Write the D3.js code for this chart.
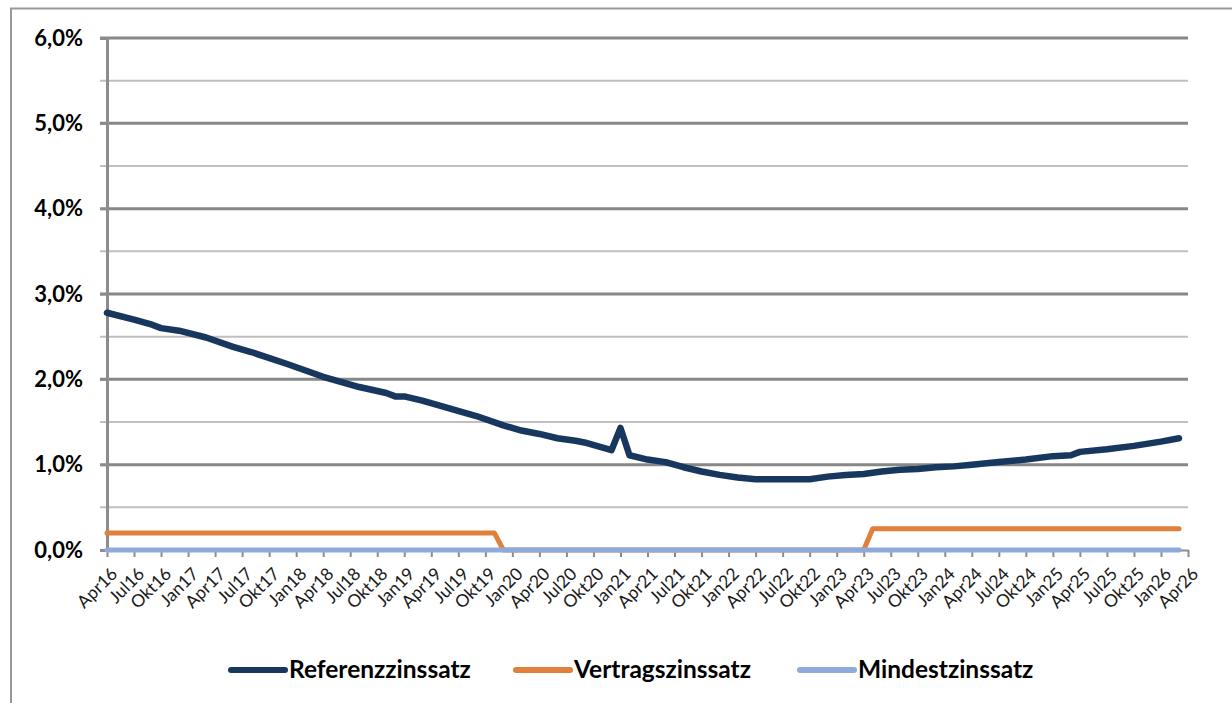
<!DOCTYPE html>
<html>
<head>
<meta charset="utf-8">
<script src="https://cdn.jsdelivr.net/npm/d3@7"></script>
<style>
  body { margin: 0; background: #fff; }
  svg { display: block; }
</style>
</head>
<body>
<svg id="chart" width="1232" height="703"></svg>
<script>
// x tick labels, one per quarter (every 3 months from Apr16)
const quarterLabels = [
  "Apr16","Jul16","Okt16","Jan17","Apr17","Jul17","Okt17","Jan18","Apr18","Jul18","Okt18",
  "Jan19","Apr19","Jul19","Okt19","Jan20","Apr20","Jul20","Okt20","Jan21","Apr21","Jul21",
  "Okt21","Jan22","Apr22","Jul22","Okt22","Jan23","Apr23","Jul23","Okt23","Jan24","Apr24",
  "Jul24","Okt24","Jan25","Apr25","Jul25","Okt25","Jan26","Apr26"
]

// month index counted from Apr16, values in %
const refMonths = [0,3,5,6,8,11,14,16,20,24,28,31,32,33,35,38,41,44,46,48,50,52,53,56,57,58,
  60,62,64,66,68,70,72,78,80,82,84,86,88,90,92,94,96,99,102,105,107,108,111,114,117,119]
const refRates = [2.78,2.70,2.64,2.60,2.57,2.49,2.38,2.32,2.18,2.03,1.91,1.84,1.80,1.80,1.75,
  1.66,1.57,1.46,1.40,1.36,1.31,1.28,1.26,1.17,1.43,1.11,1.06,1.03,0.97,0.92,0.88,0.85,0.83,
  0.83,0.86,0.88,0.89,0.92,0.94,0.95,0.97,0.98,1.00,1.03,1.06,1.10,1.11,1.15,1.18,1.22,1.27,1.31]

const contractMonths = [0,43,44,84,85,119]
const contractRates = [0.2,0.2,0,0,0.25,0.25]

const minMonths = [0,119]
const minRates = [0,0]

const yTicks = [0,1,2,3,4,5,6]
const yMinorTicks = [0.5,1.5,2.5,3.5,4.5,5.5]

const seriesNames = ["Referenzzinssatz","Vertragszinssatz","Mindestzinssatz"]
const seriesColors = ["#17375e","#e0803a","#8eaadb"]

const svg = d3.select('#chart')
const fontFam = 'Lato, "Open Sans", sans-serif'

// outer chart frame (only top and left edges are visible)
svg.append('rect')
  .attr('x', 11).attr('y', 8.5)
  .attr('width', 1400).attr('height', 900)
  .attr('fill', 'none')
  .attr('stroke', '#999')
  .attr('stroke-width', 2)

const x = d3.scaleLinear().domain([0, 120]).range([107, 1188])
const y = d3.scaleLinear().domain([0, 6]).range([550, 38])

// gridlines
svg.append('g').selectAll('line')
  .data(yMinorTicks)
  .enter().append('line')
    .attr('x1', 100).attr('x2', x(120))
    .attr('y1', d => y(d)).attr('y2', d => y(d))
    .attr('stroke', '#bfbfbf').attr('stroke-width', 2)

svg.append('g').selectAll('line')
  .data(yTicks.filter(d => d > 0))
  .enter().append('line')
    .attr('x1', 100).attr('x2', x(120))
    .attr('y1', d => y(d)).attr('y2', d => y(d))
    .attr('stroke', '#878787').attr('stroke-width', 3)

// y axis
const yAxis = svg.append('g')
  .attr('transform', 'translate(107,0)')
  .call(d3.axisLeft(y).tickValues(yTicks).tickSize(7).tickPadding(17)
    .tickFormat(d => d3.format('.1f')(d).replace('.', ',') + '%'))
yAxis.select('.domain').attr('stroke', '#8c8c8c').attr('stroke-width', 3)
yAxis.selectAll('.tick line').attr('stroke', '#8c8c8c').attr('stroke-width', 2)
yAxis.selectAll('text')
  .attr('fill', '#000')
  .style('font-family', fontFam)
  .style('font-size', '22px')
  .style('font-weight', 'bold')

// x axis
const xAxis = svg.append('g')
  .attr('transform', 'translate(0,550)')
  .call(d3.axisBottom(x).tickValues(quarterLabels.map((d, i) => i * 3))
    .tickSize(7).tickSizeOuter(0)
    .tickFormat((d, i) => quarterLabels[i]))
xAxis.select('.domain').attr('stroke', '#8c8c8c').attr('stroke-width', 2)
xAxis.selectAll('.tick line').attr('stroke', '#8c8c8c').attr('stroke-width', 2)
xAxis.selectAll('text')
  .attr('fill', '#1a1a1a')
  .attr('text-anchor', 'end')
  .attr('dy', 0)
  .attr('y', 0)
  .attr('transform', 'translate(11,25) rotate(-45)')
  .style('font-family', fontFam)
  .style('font-size', '17.5px')

// series lines
const line = d3.line().x(d => x(d[0])).y(d => y(d[1]))
const seriesData = [
  d3.zip(refMonths, refRates),
  d3.zip(contractMonths, contractRates),
  d3.zip(minMonths, minRates)
]
const widths = [6.5, 5, 5]

seriesData.forEach((data, i) => {
  svg.append('path')
    .datum(data)
    .attr('d', line)
    .attr('fill', 'none')
    .attr('stroke', seriesColors[i])
    .attr('stroke-width', widths[i])
    .attr('stroke-linejoin', 'round')
    .attr('stroke-linecap', 'round')
})

// legend
const legendX = [229, 514, 798]
const legend = svg.append('g')
  .selectAll('g')
  .data(seriesNames)
  .enter().append('g')
    .attr('transform', (d, i) => `translate(${legendX[i]},670)`)

legend.append('line')
  .attr('x1', 2).attr('x2', 56)
  .attr('stroke', (d, i) => seriesColors[i])
  .attr('stroke-width', 6)
  .attr('stroke-linecap', 'round')

legend.append('text')
  .attr('x', 60).attr('y', 8)
  .text(d => d)
  .attr('fill', '#000')
  .style('font-family', fontFam)
  .style('font-size', '24.5px')
  .style('font-weight', 'bold')
</script>
</body>
</html>
